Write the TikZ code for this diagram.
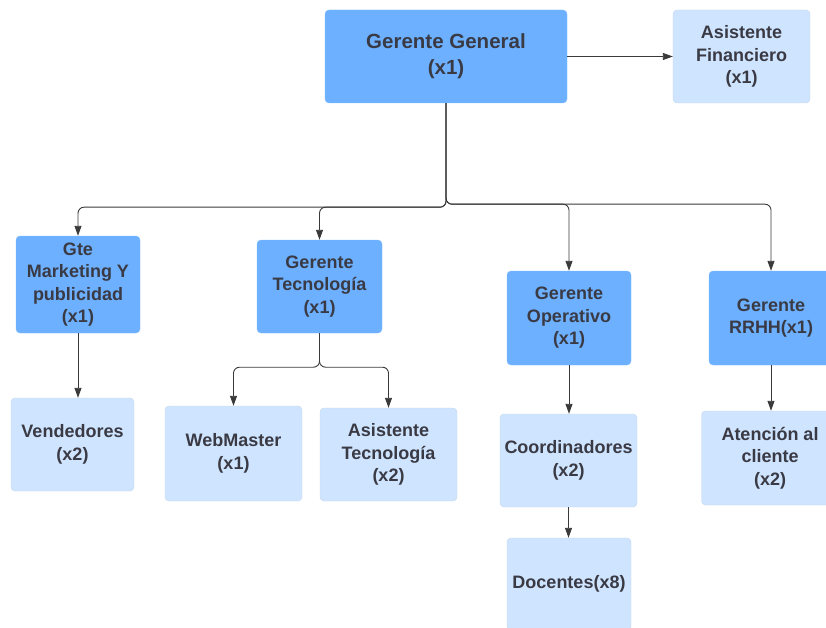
\documentclass[tikz,border=0pt]{standalone}
\usepackage{fontspec}
\setmainfont{Liberation Sans}
\usepackage{xcolor}
\usetikzlibrary{arrows.meta}

\definecolor{jefe}{HTML}{6CB0FF}
\definecolor{staff}{HTML}{CFE4FF}
\definecolor{borde}{HTML}{C3D6EC}
\definecolor{letra}{HTML}{3A3A44}
\definecolor{linea}{HTML}{3A3A3A}

\tikzset{
  cargo/.style={rounded corners=4pt, align=center, text=letra, inner sep=0pt,
    font=\bfseries\fontsize{18}{22.5}\selectfont},
  jefebox/.style={cargo, fill=jefe, draw=jefe!85!white},
  staffbox/.style={cargo, fill=staff, draw=borde},
  conn/.style={draw=linea, line width=0.9pt, rounded corners=6pt,
    -{Triangle[length=10pt, width=7pt]}}
}

\begin{document}
\begin{tikzpicture}[x=1pt, y=-1pt]
  \useasboundingbox (0,0) rectangle (826,628);

  % Top level
  \node[jefebox, minimum width=242pt, minimum height=93pt,
        font=\bfseries\fontsize{20.5}{26}\selectfont]
    (gg) at (446, 56.5) {Gerente General\\(x1)};
  \node[staffbox, minimum width=137pt, minimum height=93pt]
    (af) at (741.5, 56.5) {Asistente\\Financiero\\(x1)};

  % Managers
  \node[jefebox, minimum width=124pt, minimum height=97pt]
    (mkt) at (78, 284.5) {Gte\\Marketing Y\\publicidad\\(x1)};
  \node[jefebox, minimum width=125pt, minimum height=93pt]
    (tec) at (319.5, 286.5) {Gerente\\Tecnología\\(x1)};
  \node[jefebox, minimum width=124pt, minimum height=94pt]
    (ope) at (569, 318) {Gerente\\Operativo\\(x1)};
  \node[jefebox, minimum width=124pt, minimum height=94pt]
    (rrhh) at (771, 318) {Gerente\\RRHH(x1)};

  % Staff
  \node[staffbox, minimum width=123pt, minimum height=93pt]
    (ven) at (72.5, 444.5) {Vendedores\\(x2)};
  \node[staffbox, minimum width=137pt, minimum height=95pt]
    (web) at (233.5, 453.5) {WebMaster\\(x1)};
  \node[staffbox, minimum width=137pt, minimum height=93pt]
    (ast) at (388.5, 454.5) {Asistente\\Tecnología\\(x2)};
  \node[staffbox, minimum width=137pt, minimum height=93pt]
    (coo) at (568.5, 460.5) {Coordinadores\\(x2)};
  \node[staffbox, minimum width=124pt, minimum height=92pt]
    (doc) at (569, 584) {Docentes(x8)};
  \node[staffbox, minimum width=137pt, minimum height=94pt]
    (ate) at (770, 458) {Atención al\\cliente\\(x2)};

  % Connectors
  \draw[conn] (gg.east) -- (af.west);
  \draw[conn] (gg.south) -- ++(0,104) -| (mkt.north);
  \draw[conn] (gg.south) -- ++(0,104) -| (tec.north);
  \draw[conn] (gg.south) -- ++(0,101) -| (ope.north);
  \draw[conn] (gg.south) -- ++(0,101) -| (rrhh.north);

  \draw[conn] (mkt.south) -- (mkt.south |- ven.north);
  \draw[conn] (tec.south) -- ++(0,34) -| (web.north);
  \draw[conn] (tec.south) -- ++(0,34) -| (ast.north);
  \draw[conn] (ope.south) -- (ope.south |- coo.north);
  \draw[conn] (coo.south) -- (coo.south |- doc.north);
  \draw[conn] (rrhh.south) -- (rrhh.south |- ate.north);
\end{tikzpicture}
\end{document}
